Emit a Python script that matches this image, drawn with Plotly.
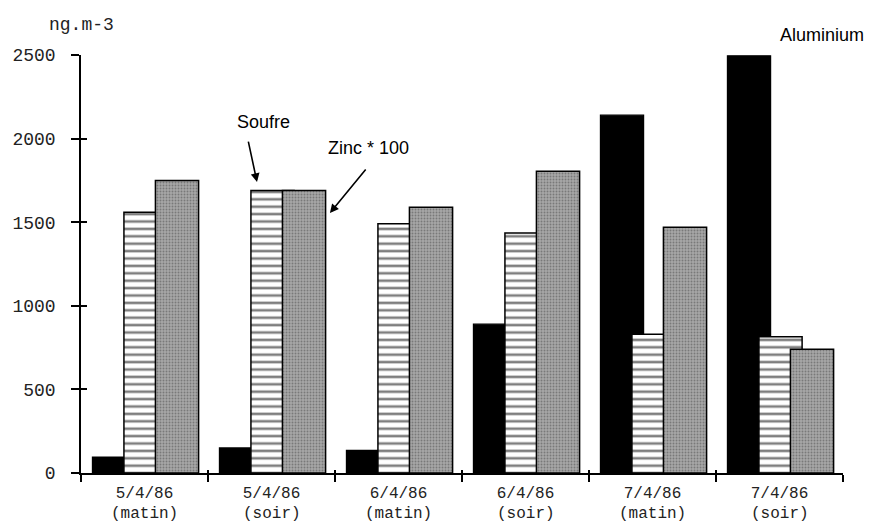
import plotly.graph_objects as go

categories = ["5/4/86", "5/4/86 ", "6/4/86", "6/4/86 ", "7/4/86", "7/4/86 "]
labels_line1 = ["5/4/86", "5/4/86", "6/4/86", "6/4/86", "7/4/86", "7/4/86"]
labels_line2 = ["(matin)", "(soir)", "(matin)", "(soir)", "(matin)", "(soir)"]
aluminium = [95, 150, 135, 890, 2140, 2495]
soufre = [1560, 1690, 1490, 1435, 830, 815]
zinc_x100 = [1750, 1690, 1590, 1805, 1470, 740]
y_ticks = [0, 500, 1000, 1500, 2000, 2500]

MONO = "Liberation Mono"
SANS = "Liberation Sans"
BW = 0.34

fig = go.Figure()
fig.add_trace(go.Bar(
    x=categories, y=aluminium, offset=-0.41, width=BW, name="Aluminium",
    marker=dict(color="black", line=dict(color="black", width=1.2)),
    showlegend=False))
fig.add_trace(go.Bar(
    x=categories, y=soufre, offset=-0.162, width=BW, name="Soufre",
    marker=dict(color="white", line=dict(color="black", width=1.5),
                pattern=dict(shape="-", fgcolor="black", bgcolor="white",
                             size=7.4, solidity=0.35, fillmode="overlay")),
    showlegend=False))
fig.add_trace(go.Bar(
    x=categories, y=zinc_x100, offset=0.086, width=BW, name="Zinc * 100",
    marker=dict(color="#9c9c9c", line=dict(color="black", width=1.5),
                pattern=dict(shape=".", fgcolor="#4a4a4a", bgcolor="#a8a8a8",
                             size=3, solidity=0.35, fillmode="overlay")),
    showlegend=False))
# helper trace so the overlay axes (inner halves of crossing ticks) are drawn
fig.add_trace(go.Scatter(x=[None], y=[None], xaxis="x2", yaxis="y2",
                         showlegend=False, hoverinfo="skip"))

n = len(categories)
boundaries = [i - 0.5 for i in range(n + 1)]

fig.update_layout(
    width=864, height=517,
    margin=dict(l=73, r=29, t=47, b=52, autoexpand=False),
    paper_bgcolor="white", plot_bgcolor="white",
    barmode="overlay",
    font=dict(family=MONO, size=18, color="#222"),
    xaxis=dict(type="category", categoryarray=categories, categoryorder="array",
               range=[-0.5, n - 0.5], tickson="boundaries",
               tickvals=categories, ticktext=labels_line1,
               ticks="outside", ticklen=7, tickwidth=1.5, tickcolor="black",
               showline=True, linecolor="black", linewidth=1.5,
               showgrid=False, zeroline=False, ticklabelstandoff=4,
               tickfont=dict(family=MONO, size=16, color="#222")),
    yaxis=dict(range=[0, 2500], tickvals=y_ticks,
               ticks="outside", ticklen=8, tickwidth=1.5, tickcolor="black",
               showline=True, linecolor="black", linewidth=1.5,
               showgrid=False, zeroline=False, ticklabelstandoff=12,
               tickfont=dict(family=MONO, size=18, color="#222")),
    xaxis2=dict(overlaying="x", anchor="y2", range=[-0.5, n - 0.5],
                tickvals=boundaries, ticks="inside", ticklen=3, tickwidth=1.5,
                tickcolor="black", showticklabels=False, showline=False,
                showgrid=False, zeroline=False),
    yaxis2=dict(overlaying="y", anchor="x2", side="left", range=[0, 2500],
                tickvals=y_ticks, ticks="inside", ticklen=6, tickwidth=1.5,
                tickcolor="black", showticklabels=False, showline=False,
                showgrid=False, zeroline=False),
)

# second line of the category labels
for i, lab in enumerate(labels_line2):
    fig.add_annotation(x=i, y=0, xref="x", yref="paper", text=lab,
                       showarrow=False, yanchor="middle", yshift=-41,
                       font=dict(family=MONO, size=16, color="#222"))

fig.add_annotation(x=0, y=1, xref="paper", yref="paper", text="ng.m-3",
                   showarrow=False, xanchor="center", yanchor="middle", yshift=30,
                   font=dict(family=MONO, size=18, color="#222"))
fig.add_annotation(x=0.972, y=1, xref="paper", yref="paper", text="Aluminium",
                   showarrow=False, xanchor="center", yanchor="middle", yshift=20,
                   font=dict(family=SANS, size=18, color="black"))
fig.add_annotation(x=0.94, y=2099, xref="x", yref="y", text="Soufre",
                   showarrow=False, xanchor="center", yanchor="middle",
                   font=dict(family=SANS, size=18, color="black"))
fig.add_annotation(x=1.76, y=1944, xref="x", yref="y", text="Zinc * 100",
                   showarrow=False, xanchor="center", yanchor="middle",
                   font=dict(family=SANS, size=18, color="black"))
fig.add_annotation(x=0.886, y=1740, xref="x", yref="y", text="",
                   showarrow=True, ax=-9, ay=-42, arrowhead=2, arrowsize=1.1,
                   arrowwidth=1.6, arrowcolor="black", standoff=0)
fig.add_annotation(x=1.46, y=1555, xref="x", yref="y", text="",
                   showarrow=True, ax=37, ay=-45, arrowhead=2, arrowsize=1.1,
                   arrowwidth=1.6, arrowcolor="black", standoff=0)

fig.write_html("out.html")
